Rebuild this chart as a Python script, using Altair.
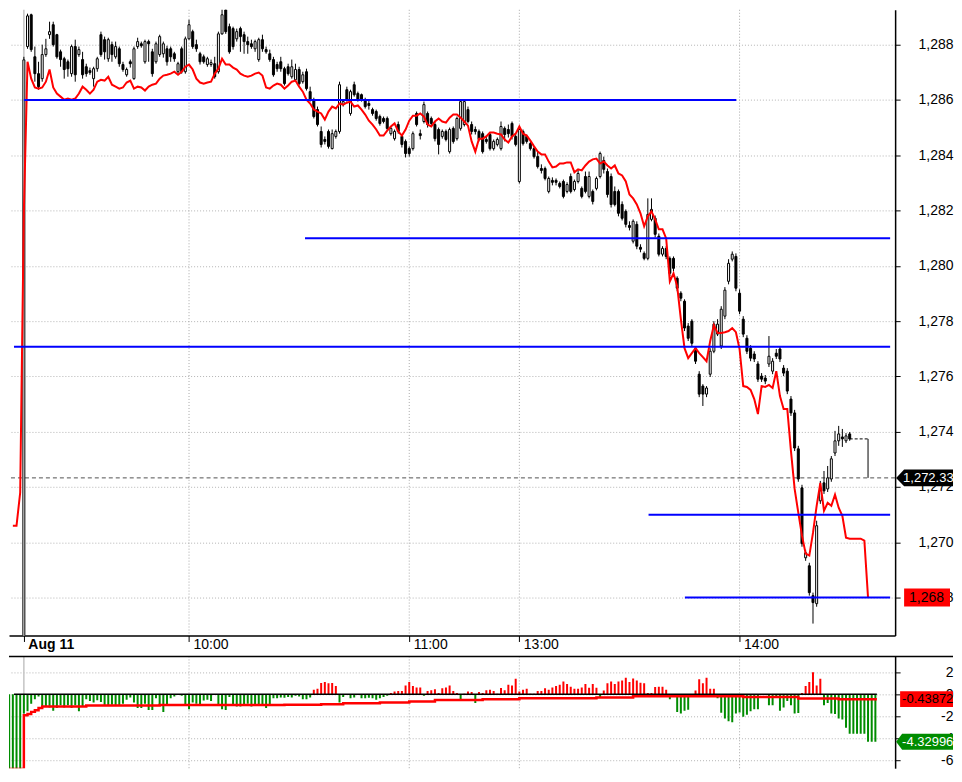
import altair as alt
import pandas as pd

FONT = "Liberation Sans"

# ---------------- axes / labels ----------------
# x = one-minute bar number of Aug 11 (0 = first bar of the day)
tick_idx = [0, 45, 105, 135, 195]
tick_text = ["Aug 11", "10:00", "11:00", "13:00", "14:00"]
x_range = [-2.69, 236.02]

price_range = [1266.63, 1289.26]
price_ticks = [1268, 1270, 1272, 1274, 1276, 1278, 1280, 1282, 1284, 1286, 1288]
osc_range = [-6.73, 3.45]
osc_ticks = [2, 0, -2, -4, -6]

# ---------------- candles (bars 0..225) ----------------
opens = [
    1266.40, 1287.93, 1289.08, 1287.56, 1286.95, 1286.77, 1287.64, 1288.36, 1288.72, 1288.36,
    1287.74, 1287.49, 1287.38, 1286.95, 1287.93, 1287.64, 1287.46, 1287.20, 1287.06, 1286.77,
    1287.13, 1288.36, 1288.18, 1287.49, 1288.00, 1287.56, 1287.85, 1287.28, 1286.91, 1287.38,
    1286.77, 1287.93, 1288.03, 1287.38, 1288.11, 1287.74, 1287.38, 1287.64, 1287.67, 1287.85,
    1287.85, 1287.67, 1287.02, 1287.85, 1287.02, 1288.21, 1288.47, 1288.00, 1287.67, 1287.56,
    1287.28, 1287.28, 1287.31, 1287.02, 1288.39, 1289.26, 1288.65, 1288.58, 1288.21, 1288.58,
    1288.36, 1288.11, 1288.03, 1287.85, 1287.46, 1288.18, 1287.82, 1287.67, 1287.46, 1287.28,
    1287.38, 1287.13, 1287.20, 1286.84, 1286.73, 1287.10, 1286.66, 1287.02, 1286.30, 1286.01,
    1285.65, 1284.86, 1284.57, 1284.86, 1284.24, 1284.68, 1284.86, 1285.83, 1286.37, 1285.51,
    1286.55, 1286.23, 1286.19, 1286.01, 1285.87, 1285.65, 1285.58, 1285.40, 1285.33, 1285.33,
    1284.78, 1284.60, 1285.11, 1284.68, 1284.50, 1284.24, 1284.24, 1285.51, 1284.78, 1285.22,
    1285.51, 1285.33, 1285.11, 1284.93, 1284.68, 1284.86, 1284.13, 1284.97, 1284.60, 1284.97,
    1285.11, 1285.65, 1285.11, 1284.93, 1284.86, 1284.78, 1284.57, 1284.75, 1284.24, 1284.39,
    1284.24, 1284.97, 1284.93, 1285.15, 1284.68, 1283.05, 1284.86, 1284.68, 1284.42, 1284.24,
    1283.95, 1283.52, 1283.52, 1282.69, 1283.09, 1283.09, 1282.98, 1283.05, 1282.69, 1283.23,
    1282.76, 1283.05, 1282.80, 1283.23, 1282.51, 1282.69, 1282.80, 1283.23, 1283.81, 1283.41,
    1283.23, 1282.69, 1282.69, 1282.22, 1281.97, 1281.46, 1280.89, 1281.50, 1280.67, 1280.45,
    1280.27, 1281.68, 1281.72, 1281.07, 1280.42, 1280.63, 1280.27, 1280.27, 1279.55, 1279.01,
    1278.72, 1277.82, 1278.00, 1277.02, 1276.08, 1275.65, 1275.36, 1276.08, 1276.91, 1277.53,
    1277.10, 1278.18, 1279.44, 1280.24, 1280.34, 1279.01, 1278.07, 1277.38, 1277.02, 1276.81,
    1276.45, 1276.01, 1275.94, 1276.45, 1276.19, 1276.84, 1276.99, 1276.30, 1276.19, 1275.18,
    1274.68, 1273.38, 1271.97, 1269.44, 1269.15, 1268.07, 1267.78, 1271.50, 1272.15, 1271.93,
    1272.29, 1273.23, 1273.67, 1273.81, 1273.67, 1273.92,
]
highs = [
    1287.56, 1289.12, 1289.12, 1287.93, 1287.38, 1288.00, 1288.21, 1288.83, 1288.83, 1288.39,
    1287.82, 1287.56, 1287.46, 1288.00, 1288.18, 1287.93, 1287.74, 1287.31, 1287.17, 1287.20,
    1287.56, 1288.47, 1288.29, 1288.25, 1288.11, 1288.11, 1287.93, 1287.38, 1287.17, 1287.46,
    1287.93, 1288.25, 1288.11, 1288.18, 1288.18, 1287.85, 1288.11, 1288.36, 1288.11, 1287.96,
    1287.93, 1287.74, 1287.38, 1287.93, 1288.29, 1288.90, 1288.54, 1288.18, 1287.74, 1287.64,
    1287.56, 1287.46, 1287.56, 1288.47, 1289.37, 1289.44, 1288.76, 1288.65, 1288.58, 1288.65,
    1288.47, 1288.29, 1288.18, 1288.18, 1288.25, 1288.36, 1287.93, 1287.82, 1287.56, 1287.38,
    1287.56, 1287.20, 1287.31, 1287.46, 1287.31, 1287.20, 1287.02, 1287.13, 1286.48, 1286.08,
    1285.76, 1285.04, 1284.68, 1284.93, 1284.93, 1284.93, 1286.66, 1286.01, 1286.48, 1286.37,
    1286.66, 1286.30, 1286.23, 1286.08, 1286.01, 1285.72, 1285.65, 1285.47, 1285.40, 1285.40,
    1285.04, 1284.93, 1285.22, 1284.75, 1284.57, 1284.32, 1284.86, 1285.58, 1284.93, 1285.94,
    1285.58, 1285.40, 1285.22, 1285.00, 1284.93, 1284.93, 1285.00, 1285.04, 1285.40, 1286.01,
    1286.01, 1285.76, 1285.22, 1285.04, 1284.93, 1284.86, 1284.68, 1284.82, 1284.57, 1284.64,
    1285.22, 1285.04, 1285.11, 1285.22, 1284.78, 1285.04, 1284.93, 1284.75, 1284.50, 1284.32,
    1284.13, 1283.67, 1283.59, 1283.23, 1283.20, 1283.16, 1283.05, 1283.12, 1283.02, 1283.34,
    1283.12, 1283.49, 1282.87, 1283.41, 1283.41, 1282.76, 1283.23, 1284.13, 1283.95, 1283.52,
    1283.34, 1282.87, 1282.76, 1282.33, 1282.04, 1281.61, 1281.68, 1281.61, 1280.78, 1280.52,
    1282.44, 1282.44, 1281.82, 1281.17, 1280.71, 1280.71, 1280.34, 1280.34, 1279.62, 1279.08,
    1278.79, 1277.93, 1278.07, 1277.10, 1276.19, 1275.72, 1275.65, 1277.02, 1278.00, 1278.07,
    1278.54, 1279.23, 1280.24, 1280.52, 1280.45, 1279.15, 1278.18, 1277.49, 1277.13, 1276.91,
    1276.55, 1276.12, 1276.05, 1277.46, 1276.66, 1276.99, 1277.10, 1276.41, 1276.30, 1275.29,
    1274.79, 1273.49, 1272.08, 1269.73, 1269.26, 1268.18, 1270.78, 1272.22, 1272.58, 1272.76,
    1273.12, 1274.03, 1274.21, 1274.10, 1273.95, 1273.99,
]
lows = [
    1266.30, 1287.85, 1287.74, 1286.66, 1286.37, 1286.66, 1287.56, 1288.21, 1287.93, 1287.49,
    1287.20, 1286.77, 1286.84, 1286.84, 1286.66, 1287.56, 1286.77, 1286.84, 1286.91, 1286.48,
    1287.02, 1287.56, 1287.46, 1287.38, 1287.38, 1287.49, 1287.20, 1287.02, 1286.84, 1287.17,
    1286.73, 1287.85, 1287.89, 1287.31, 1287.38, 1286.84, 1287.31, 1287.56, 1287.53, 1287.24,
    1287.38, 1287.38, 1286.95, 1286.95, 1286.95, 1288.18, 1287.85, 1287.74, 1287.28, 1287.31,
    1287.20, 1287.20, 1286.77, 1286.95, 1288.36, 1288.39, 1287.67, 1287.82, 1288.11, 1287.74,
    1287.67, 1287.67, 1287.85, 1287.74, 1287.38, 1287.74, 1287.67, 1287.38, 1286.84, 1287.02,
    1287.02, 1286.52, 1286.88, 1286.77, 1286.66, 1286.52, 1286.59, 1286.34, 1285.94, 1285.33,
    1285.04, 1284.28, 1284.39, 1284.24, 1284.21, 1284.60, 1284.78, 1285.76, 1285.94, 1285.43,
    1286.12, 1285.94, 1285.94, 1285.69, 1285.65, 1285.43, 1285.25, 1285.07, 1285.15, 1284.89,
    1284.71, 1284.53, 1284.78, 1284.28, 1283.92, 1283.95, 1284.17, 1285.04, 1284.57, 1285.15,
    1285.00, 1285.04, 1284.50, 1284.03, 1284.60, 1284.50, 1284.06, 1284.42, 1284.53, 1284.89,
    1285.04, 1285.15, 1284.75, 1284.75, 1284.50, 1284.06, 1284.42, 1284.17, 1284.17, 1284.32,
    1284.17, 1284.50, 1284.64, 1284.57, 1284.32, 1282.98, 1284.35, 1284.42, 1284.17, 1283.88,
    1283.52, 1283.34, 1283.09, 1282.62, 1282.91, 1282.91, 1282.80, 1282.44, 1282.62, 1282.62,
    1282.69, 1282.98, 1282.44, 1282.62, 1282.44, 1282.22, 1282.73, 1283.16, 1283.34, 1282.47,
    1282.11, 1282.15, 1281.79, 1281.64, 1281.39, 1281.28, 1280.81, 1280.60, 1280.49, 1280.20,
    1280.20, 1281.61, 1281.03, 1280.34, 1280.34, 1280.24, 1279.62, 1279.80, 1279.08, 1278.72,
    1277.64, 1277.28, 1277.10, 1276.45, 1275.25, 1274.93, 1275.25, 1275.98, 1276.84, 1277.46,
    1276.99, 1278.07, 1279.33, 1280.16, 1279.08, 1278.25, 1277.42, 1276.81, 1276.55, 1276.52,
    1275.80, 1275.80, 1275.72, 1276.34, 1276.08, 1276.63, 1276.52, 1276.01, 1275.36, 1274.57,
    1273.30, 1272.19, 1269.84, 1269.33, 1268.07, 1267.06, 1267.67, 1271.39, 1271.75, 1271.82,
    1272.19, 1273.12, 1273.49, 1273.45, 1273.59, 1273.67,
]
closes = [
    1287.45, 1289.04, 1287.82, 1286.95, 1286.48, 1287.64, 1287.85, 1288.47, 1288.00, 1287.56,
    1287.46, 1287.10, 1287.13, 1287.93, 1286.91, 1287.82, 1286.91, 1286.95, 1286.99, 1287.13,
    1287.49, 1287.64, 1287.74, 1288.18, 1287.64, 1287.93, 1287.31, 1287.10, 1287.10, 1287.31,
    1287.85, 1288.11, 1287.96, 1288.11, 1288.03, 1286.95, 1288.03, 1288.29, 1288.03, 1287.38,
    1287.56, 1287.49, 1287.31, 1287.02, 1288.21, 1288.72, 1287.93, 1287.85, 1287.38, 1287.38,
    1287.49, 1287.35, 1286.84, 1288.39, 1289.08, 1288.47, 1287.74, 1287.93, 1288.47, 1288.29,
    1288.11, 1288.00, 1287.93, 1288.11, 1288.18, 1287.85, 1287.74, 1287.46, 1286.91, 1287.13,
    1287.13, 1286.59, 1286.95, 1287.20, 1287.10, 1286.59, 1286.91, 1286.41, 1286.01, 1285.40,
    1285.11, 1284.39, 1284.50, 1284.32, 1284.78, 1284.86, 1286.55, 1285.94, 1286.01, 1286.30,
    1286.19, 1286.01, 1286.01, 1285.76, 1285.80, 1285.51, 1285.33, 1285.15, 1285.22, 1284.97,
    1284.97, 1284.86, 1284.86, 1284.39, 1284.06, 1284.06, 1284.78, 1285.11, 1284.71, 1285.83,
    1285.11, 1285.15, 1284.60, 1284.39, 1284.86, 1284.57, 1284.93, 1284.50, 1285.33, 1285.94,
    1285.94, 1285.22, 1284.86, 1284.86, 1284.57, 1284.13, 1284.50, 1284.24, 1284.50, 1284.57,
    1285.04, 1284.75, 1284.78, 1284.68, 1284.39, 1284.93, 1284.42, 1284.50, 1284.24, 1283.95,
    1283.59, 1283.45, 1283.16, 1283.16, 1283.02, 1283.02, 1282.87, 1282.51, 1282.94, 1282.69,
    1283.05, 1283.34, 1282.51, 1282.69, 1283.23, 1282.33, 1283.16, 1284.06, 1283.49, 1282.58,
    1282.22, 1282.22, 1281.90, 1281.72, 1281.50, 1281.39, 1281.61, 1280.71, 1280.60, 1280.27,
    1281.86, 1282.04, 1281.14, 1280.42, 1280.63, 1280.34, 1279.73, 1279.91, 1279.19, 1278.83,
    1277.75, 1277.38, 1277.20, 1276.55, 1275.36, 1275.36, 1275.58, 1276.91, 1277.89, 1277.89,
    1278.43, 1279.12, 1280.09, 1280.42, 1279.19, 1278.36, 1277.53, 1276.91, 1276.66, 1276.63,
    1275.90, 1275.90, 1275.83, 1276.73, 1276.55, 1276.73, 1276.63, 1276.12, 1275.47, 1274.68,
    1273.41, 1272.29, 1269.95, 1269.62, 1268.18, 1267.82, 1270.60, 1271.86, 1271.86, 1272.33,
    1273.02, 1273.67, 1273.92, 1273.74, 1273.85, 1273.74,
]

# ---------------- red average line on price (bars -3..230) ----------------
ma_start = -3
ma_vals = [
    1270.60, 1270.60, 1271.80,
    1281.97, 1287.38, 1286.77, 1286.45, 1286.41, 1286.45, 1286.66, 1287.10, 1286.45, 1286.23,
    1286.12, 1286.01, 1286.05, 1286.01, 1286.05, 1286.23, 1286.48, 1286.37, 1286.23, 1286.37,
    1286.66, 1286.73, 1286.70, 1286.84, 1286.55, 1286.48, 1286.41, 1286.45, 1286.63, 1286.70,
    1286.41, 1286.48, 1286.45, 1286.34, 1286.48, 1286.55, 1286.59, 1286.77, 1286.88, 1286.91,
    1286.95, 1287.02, 1286.91, 1287.02, 1287.20, 1287.28, 1287.10, 1286.77, 1286.63, 1286.59,
    1286.63, 1286.66, 1286.95, 1287.13, 1287.49, 1287.28, 1287.28, 1287.17, 1287.10, 1286.95,
    1286.88, 1286.84, 1286.88, 1286.95, 1286.99, 1286.88, 1286.45, 1286.41, 1286.52, 1286.59,
    1286.55, 1286.41, 1286.52, 1286.66, 1286.70, 1286.48, 1286.30, 1286.01, 1285.87, 1285.65,
    1285.58, 1285.51, 1285.29, 1285.58, 1285.76, 1285.69, 1285.87, 1285.83, 1285.90, 1285.94,
    1285.76, 1285.80, 1285.65, 1285.47, 1285.25, 1285.11, 1284.93, 1284.71, 1284.71, 1284.89,
    1285.04, 1285.15, 1284.86, 1284.71, 1284.93, 1285.25, 1285.43, 1285.43, 1285.51, 1285.40,
    1285.11, 1285.04, 1285.22, 1285.33, 1285.22, 1285.18, 1285.36, 1285.47, 1285.47, 1285.36,
    1285.22, 1285.07, 1284.50, 1284.13, 1284.60, 1284.60, 1284.68, 1284.82, 1284.82, 1284.78,
    1284.75, 1284.57, 1284.46, 1284.68, 1284.78, 1285.04, 1284.78, 1284.71, 1284.53, 1284.32,
    1284.13, 1284.03, 1284.03, 1283.77, 1283.56, 1283.59, 1283.70, 1283.70, 1283.74, 1283.74,
    1283.38, 1283.49, 1283.45, 1283.63, 1283.77, 1283.85, 1283.88, 1283.70, 1283.77, 1283.63,
    1283.52, 1283.63, 1283.34, 1283.27, 1283.05, 1282.58, 1282.44, 1282.22, 1281.90, 1281.43,
    1281.79, 1281.97, 1281.68, 1281.32, 1281.32, 1280.99, 1279.44, 1279.73, 1279.26, 1278.07,
    1277.02, 1276.66, 1276.84, 1277.02, 1276.84, 1276.70, 1276.55, 1277.28, 1277.85, 1277.57,
    1277.57, 1277.60, 1277.64, 1277.75, 1277.60, 1276.99, 1275.65, 1275.62, 1275.51, 1275.18,
    1274.64, 1275.65, 1275.62, 1275.69, 1275.58, 1276.19, 1275.29, 1274.82, 1274.82, 1273.30,
    1271.93, 1271.07, 1270.24, 1269.59, 1269.52, 1270.34, 1271.32, 1272.15, 1271.14, 1271.43,
    1271.32, 1271.72, 1271.25, 1270.96, 1270.17, 1270.13, 1270.13, 1270.13, 1270.13, 1270.06,
    1268.00,
]

# ---------------- oscillator histogram (bars -4..232) ----------------
hist_start = -4
hist_vals = [
    -7.0, -7.0, -7.0, -7.0,
    -1.75, -1.55, -0.87, -0.45, -0.20, -1.12, -1.12, -1.19, -1.49, -1.24,
    -1.00, -1.19, -1.00, -1.24, -1.00, -1.54, -1.07, -0.45, -0.62, -0.75,
    -0.55, -0.70, -1.07, -1.07, -0.95, -1.00, -1.04, -0.87, -0.50, -0.30,
    -0.75, -1.24, -1.24, -0.87, -1.44, -1.44, -0.37, -1.00, -1.62, -1.00,
    -0.37, -0.20, -0.07, -0.12, -1.00, -1.37, -0.75, -0.87, -1.00, -0.57,
    -0.50, -0.62, -0.05, -1.00, -1.37, -1.44, -0.25, -1.00, -1.12, -1.12,
    -1.00, -0.87, -1.12, -0.95, -1.00, -0.95, -1.24, -1.00, -0.37, -0.37,
    -0.30, -0.32, -0.25, -0.30, -0.12, -0.20, -0.45, -0.45, -0.30, 0.42,
    0.50, 1.04, 1.12, 1.00, 1.04, 0.75, -0.75, -0.25, -0.05, -0.37,
    -0.30, -0.05, -0.35, -0.37, -0.32, -0.37, -0.50, -0.37, -0.25, -0.12,
    0.12, 0.25, 0.30, 0.30, 0.80, 1.12, 0.75, 0.62, 0.62, -0.12,
    0.30, 0.37, 0.45, 0.12, 0.55, 0.62, 0.80, 0.30, 0.12, -0.45,
    0.05, 0.25, 0.20, -0.80, 0.20, 0.12, 0.37, 0.42, 0.30, 0.05,
    0.57, 0.37, 0.87, 0.80, 1.42, 0.25, 0.42, 0.50, 0.05, 0.05,
    0.30, 0.30, 0.55, 0.42, 0.62, 0.75, 0.87, 1.17, 0.95, 0.70,
    0.50, 0.50, 0.62, 0.95, 0.60, 0.95, 0.60, -0.25, 0.35, 1.00,
    1.17, 0.95, 1.17, 1.25, 1.50, 1.12, 1.45, 1.25, 1.05, 1.00,
    0.12, 0.12, 0.67, 0.70, 0.70, 0.42, -0.45, -0.12, -1.60, -1.75,
    -1.50, -1.40, -0.12, 0.35, 1.37, 1.00, 1.50, 0.50, 0.50, -0.37,
    -1.67, -2.20, -2.45, -2.55, -1.75, -1.65, -2.05, -1.87, -1.55, -1.37,
    -1.37, -0.05, -0.05, -1.00, -1.00, -0.30, -1.50, -1.20, -0.62, -1.00,
    -1.75, -1.70, 0.12, 0.75, 1.12, 2.00, 0.80, 1.42, -1.00, -0.80,
    -1.75, -1.80, -2.20, -2.30, -3.05, -3.60, -3.60, -3.60, -3.60, -3.60,
    -4.33, -4.33, -4.33,
]

# oscillator signal line (changes at these bars)
sig_idx = [-4, -1, 0, 1, 2, 3, 4, 5, 17, 37, 71, 81, 87, 97, 105, 112, 125, 135, 156, 166, 196, 211, 222, 232.4]
sig_vals = [-6.8, -6.8, -1.9, -1.8, -1.6, -1.45, -1.25, -1.1, -1.03, -0.98, -0.95, -0.9, -0.82, -0.75,
            -0.65, -0.52, -0.45, -0.35, -0.28, -0.18, -0.25, -0.38, -0.44, -0.44]
osc_zero_end = 232.4

# blue support / resistance levels
level_vals = [1286.0, 1281.0, 1277.07, 1271.0, 1268.0]
level_from = [0.0, 76.6, -2.69, 170.2, 180.1]
level_to = [194.1, 236.02, 236.02, 236.02, 236.02]

# last-price marks
quote_price = 1272.33
quote_label = "1,272.33"
ma_last = 1268.0
ma_last_label = "1,268"
ext_from, ext_to = 225, 230
sig_last = -0.43872
sig_last_label = "-0.43872"
osc_last = -4.32996
osc_last_label = "-4.32996"

# ---------------- frames ----------------
n = len(opens)
candles = pd.DataFrame({"i": list(range(n)), "o": opens, "h": highs, "l": lows, "c": closes})
ma_df = pd.DataFrame({"i": list(range(ma_start, ma_start + len(ma_vals))), "v": ma_vals})
hist_df = pd.DataFrame({"i": list(range(hist_start, hist_start + len(hist_vals))), "v": hist_vals})
sig_df = pd.DataFrame({"i": sig_idx, "v": sig_vals})
lev_df = pd.DataFrame({"x0": level_from, "x1": level_to, "v": level_vals})
vgrid_df = pd.DataFrame({"t": tick_idx[1:]})
sep_df = pd.DataFrame({"t": tick_idx[:1]})
quote_df = pd.DataFrame({"v": [quote_price]})
ext_df = pd.DataFrame({"x0": [ext_from], "x1": [ext_to], "v": [closes[-1]], "q": [quote_price]})
zero_df = pd.DataFrame({"x0": [x_range[0]], "x1": [osc_zero_end], "v": [0.0]})
tag_q = pd.DataFrame({"v": [quote_price], "t": [quote_label]})
tag_ma = pd.DataFrame({"v": [ma_last], "t": [ma_last_label]})
tag_sig = pd.DataFrame({"v": [sig_last], "t": [sig_last_label]})
tag_osc = pd.DataFrame({"v": [osc_last], "t": [osc_last_label]})

# ---------------- scales & axes ----------------
W_PLOT = 888
RIGHT_EDGE = 946  # keep the whole drawing inside the page
xscale = alt.Scale(domain=x_range, nice=False, zero=False)
label_expr = " : ".join(f"datum.value == {t} ? '{s}'" for t, s in zip(tick_idx, tick_text)) + " : ''"
xaxis_top = alt.Axis(
    orient="bottom", values=tick_idx, labelExpr=label_expr, title=None, grid=False,
    tickSize=6, tickColor="black", domainColor="black", domainWidth=1.5,
    labelPadding=3, labelAlign="left", labelBaseline="middle", labelOffset=4,
    labelFontSize=14, labelFont=FONT, labelColor="black", labelOverlap=False, labelFlush=False,
    labelFontWeight={"condition": {"test": "datum.value == 0", "value": "bold"}, "value": "normal"},
)
yscale_top = alt.Scale(domain=price_range, nice=False, zero=False)
yaxis_top = alt.Axis(
    orient="right", values=price_ticks, format=",.0f", title=None,
    tickSize=5, labelPadding=RIGHT_EDGE - W_PLOT - 5, labelAlign="right", labelBaseline="middle",
    labelFontSize=14, labelFont=FONT, labelColor="black", tickColor="black",
    domainColor="black", domainWidth=1.5, grid=True, gridColor="#b4b4b4", gridDash=[1, 2],
)
yscale_low = alt.Scale(domain=osc_range, nice=False, zero=False)
yaxis_low = alt.Axis(
    orient="right", values=osc_ticks, title=None,
    labelExpr="datum.value < 0 ? '-' + abs(datum.value) : '' + datum.value",
    tickSize=5, labelPadding=RIGHT_EDGE - W_PLOT - 5, labelAlign="right", labelBaseline="middle",
    labelFontSize=14, labelFont=FONT, labelColor="black", tickColor="black",
    domainColor="black", domainWidth=1.5, grid=True, gridColor="#b4b4b4", gridDash=[1, 2],
)


def XT(f):
    return alt.X(f, type="quantitative", scale=xscale, axis=xaxis_top)


def YT(f):
    return alt.Y(f, type="quantitative", scale=yscale_top, axis=yaxis_top)


def XB(f):
    return alt.X(f, type="quantitative", scale=xscale, axis=None)


def YB(f):
    return alt.Y(f, type="quantitative", scale=yscale_low, axis=yaxis_low)


def tag(df, xpos, path, fill, text_x, text_color, yenc, fsize):
    shape = alt.Chart(df).mark_point(shape=path, size=400, filled=True, opacity=1,
                                     color=fill, strokeWidth=0).encode(x=alt.value(xpos), y=yenc("v"))
    label = alt.Chart(df).mark_text(align="left", baseline="middle", fontSize=fsize, font=FONT,
                                    color=text_color).encode(x=alt.value(text_x), y=yenc("v"), text="t:N")
    return [shape, label]


# ---------------- price panel ----------------
vgrid = alt.Chart(vgrid_df).mark_rule(color="#a8a8a8", strokeDash=[1, 2], strokeWidth=1).encode(x=XT("t"))
sep = alt.Chart(sep_df).mark_rule(color="#c4c4c4", strokeWidth=1.5).encode(x=XT("t"))
quote_line = alt.Chart(quote_df).mark_rule(color="#505050", strokeDash=[4, 3], strokeWidth=1).encode(y=YT("v"))
wicks = alt.Chart(candles).mark_rule(color="black", strokeWidth=1, clip=True).encode(
    x=XT("i"), y=YT("l"), y2="h")
bodies = alt.Chart(candles).mark_bar(size=2, stroke="black", strokeWidth=1, clip=True).encode(
    x=XT("i"), y=YT("o"), y2="c",
    color=alt.condition("datum.c > datum.o", alt.value("white"), alt.value("black")))
ma_line = alt.Chart(ma_df).mark_line(color="#ff0000", strokeWidth=2, clip=True).encode(x=XT("i"), y=YT("v"))
ext_h = alt.Chart(ext_df).mark_rule(color="black", strokeDash=[3, 2], strokeWidth=1).encode(
    x=XT("x0"), x2="x1", y=YT("v"))
ext_v = alt.Chart(ext_df).mark_rule(color="black", strokeWidth=1).encode(x=XT("x1"), y=YT("v"), y2="q")
levels = alt.Chart(lev_df).mark_rule(color="#0000ff", strokeWidth=2, clip=True).encode(
    x=XT("x0"), x2="x1", y=YT("v"))

top_layers = [vgrid, sep, quote_line, wicks, bodies, ma_line, ext_h, ext_v, levels]
top_layers += tag(tag_q, 889, "M0,0L0.8,-0.85L5.7,-0.85L5.7,0.85L0.8,0.85Z", "black", 896, "white", YT, 13)
top_layers += tag(tag_ma, 897, "M0,-0.9L4.6,-0.9L4.6,0.9L0,0.9Z", "#ff0000", 902, "black", YT, 14)
top = alt.layer(*top_layers).properties(width=W_PLOT, height=627)

# ---------------- oscillator panel ----------------
vgrid_l = alt.Chart(vgrid_df).mark_rule(color="#a8a8a8", strokeDash=[1, 2], strokeWidth=1).encode(x=XB("t"))
sep_l = alt.Chart(sep_df).mark_rule(color="#c4c4c4", strokeWidth=1.5).encode(x=XB("t"))
hist = alt.Chart(hist_df).mark_bar(size=2, clip=True).encode(
    x=XB("i"), y=YB("v"), y2=alt.datum(0),
    color=alt.condition("datum.v > 0", alt.value("#ff0000"), alt.value("#008c00")))
zero_line = alt.Chart(zero_df).mark_rule(color="black", strokeWidth=1.5).encode(
    x=XB("x0"), x2="x1", y=YB("v"))
sig_line = alt.Chart(sig_df).mark_line(color="#ff0000", strokeWidth=2.5, interpolate="step-after",
                                       clip=True).encode(x=XB("i"), y=YB("v"))
border = alt.Chart(zero_df).mark_rule(color="black", strokeWidth=1.5).encode(
    x=alt.value(0), x2=alt.value(RIGHT_EDGE), y=alt.value(0))

low_layers = [vgrid_l, sep_l, hist, zero_line, sig_line, border]
low_layers += tag(tag_sig, 893, "M0,-0.8L5.3,-0.8L5.3,0.8L0,0.8Z", "#ff0000", 895, "black", YB, 13)
low_layers += tag(tag_osc, 889, "M0,0L0.6,-0.8L5.7,-0.8L5.7,0.8L0.6,0.8Z", "#008c00", 895, "white", YB, 13)
low = alt.layer(*low_layers).properties(width=W_PLOT, height=112)

chart = (
    alt.vconcat(top, low, spacing=21, bounds="flush")
    .properties(padding=0, background="white")
    .configure(font=FONT)
    .configure_view(strokeWidth=0)
)

chart.save("out.html", embed_options={"renderer": "svg", "actions": False})
